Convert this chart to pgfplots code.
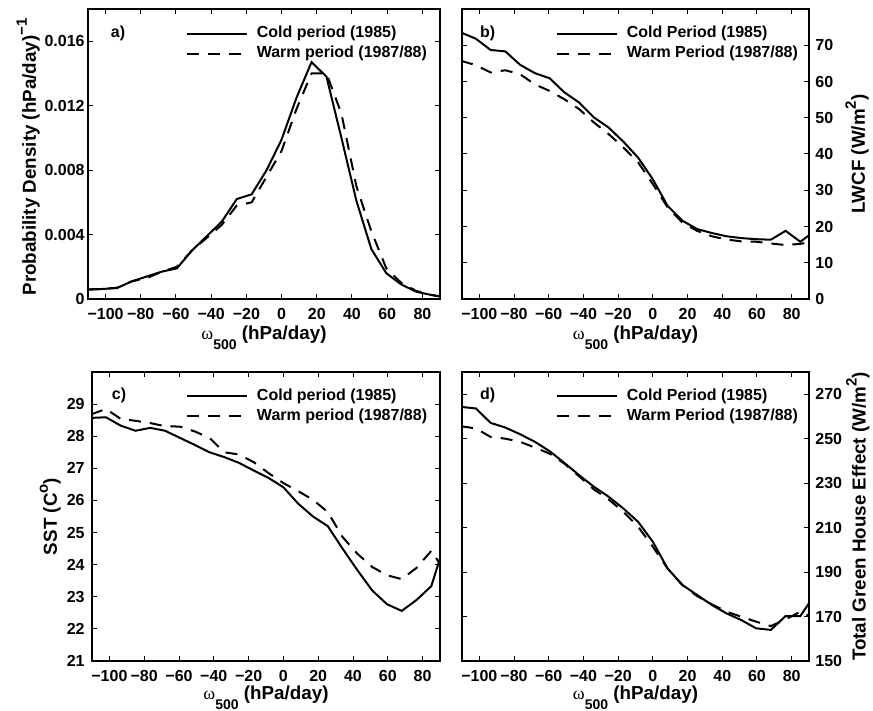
\documentclass[border=0pt]{standalone}
\usepackage{fontspec}
\setmainfont{Liberation Sans}
\newfontfamily\omegafont{Liberation Serif}
\usepackage{pgfplots}
\pgfplotsset{compat=1.18}

\pgfplotstableread{
x cold warm
-110.5 0.00057 0.00060
-102 0.00062 0.00062
-93.5 0.00068 0.00070
-85 0.00110 0.00110
-76.5 0.00140 0.00130
-68 0.00170 0.00170
-59.5 0.00190 0.00200
-51 0.00300 0.00300
-42.5 0.00390 0.00380
-34 0.00480 0.00460
-25.5 0.00620 0.00580
-17 0.00650 0.00600
-8.5 0.00800 0.00760
0 0.00990 0.00920
8.5 0.01250 0.01180
17 0.01470 0.01400
25.5 0.01380 0.01400
34 0.01000 0.01150
42.5 0.00610 0.00700
51 0.00310 0.00420
59.5 0.00160 0.00190
68 0.00090 0.00100
76.5 0.00045 0.00050
85 0.00025 0.00025
93.5 0.00010 0.00010
}\tabA

\pgfplotstableread{
x cold warm
-110.5 73.5 65.7
-102 71.8 64.5
-93.5 68.7 62.5
-85 68.3 63.1
-76.5 64.6 62.0
-68 62.3 59.2
-59.5 60.9 57.4
-51 57.0 55.1
-42.5 54.2 52.4
-34 50.1 48.7
-25.5 47.3 45.5
-17 43.4 41.8
-8.5 39.0 37.7
0 33.0 31.7
8.5 25.7 25.3
17 21.6 21.1
25.5 19.3 18.8
34 18.2 17.3
42.5 17.3 16.4
51 16.8 15.9
59.5 16.5 15.8
68 16.35 15.3
76.5 18.8 14.9
85 15.8 15.2
93.5 18.8 16.0
}\tabB

\pgfplotstableread{
x cold warm
-110.5 28.57 28.68
-102 28.59 28.85
-93.5 28.33 28.54
-85 28.17 28.48
-76.5 28.26 28.41
-68 28.17 28.31
-59.5 27.95 28.30
-51 27.73 28.15
-42.5 27.50 27.95
-34 27.35 27.50
-25.5 27.17 27.43
-17 26.93 27.19
-8.5 26.70 26.85
0 26.41 26.54
8.5 25.90 26.29
17 25.50 26.02
25.5 25.20 25.64
34 24.50 24.86
42.5 23.83 24.34
51 23.20 23.93
59.5 22.77 23.67
68 22.56 23.55
76.5 22.90 23.90
85 23.33 24.43
93.5 24.80 23.74
}\tabC

\pgfplotstableread{
x cold warm
-110.5 264.3 255.6
-102 263.6 254.6
-93.5 257.1 250.8
-85 255.0 250.0
-76.5 252.0 248.6
-68 248.6 246.0
-59.5 244.4 243.3
-51 239.1 238.8
-42.5 233.6 233.1
-34 228.4 227.2
-25.5 223.9 222.7
-17 218.6 217.1
-8.5 212.6 210.4
0 203.6 201.4
8.5 191.6 191.6
17 184.2 184.2
25.5 179.7 179.2
34 175.2 175.5
42.5 171.4 172.2
51 168.4 169.9
59.5 164.7 167.7
68 164.0 165.7
76.5 170.2 168.7
85 170.2 172.2
93.5 180.0 169.0
}\tabD

\newcommand{\lblfont}{\fontsize{9.4}{11}\selectfont\bfseries}
\newcommand{\tkfont}{\fontsize{8}{9}\selectfont\bfseries}
\newcommand{\omegalabel}{{\omegafont\mdseries\fontsize{9}{10}\selectfont ω}\raisebox{-5pt}{\fontsize{7}{8}\selectfont 500} (hPa/day)}

\pgfplotsset{
  myax/.style={
    scale only axis,
    xmin=-110, xmax=90,
    xtick={-100,-80,...,80},
    xticklabels={−100,−80,−60,−40,−20,0,20,40,60,80},
    tick align=inside, tick pos=both, major tick length=2.5pt,
    axis line style={line width=0.6pt, black},
    every tick/.style={line width=0.5pt, black},
    tick label style={font=\tkfont},
    xticklabel style={anchor=base, yshift=-10.3pt, inner sep=0pt},
    label style={font=\lblfont},
    xlabel={\omegalabel},
    legend cell align=left,
    legend style={draw=none, fill=none, font=\tkfont,
      inner sep=0pt, outer sep=0pt,
      nodes={inner sep=0pt, text height=6pt, text depth=2pt},
      row sep=2pt, column sep=4.5pt},
    legend image code/.code={\draw[##1] (0pt,0pt) -- (30pt,0pt);},
  },
  cold/.style={black, line width=1pt},
  warm/.style={black, line width=1pt, dash pattern=on 6pt off 4.5pt},
}

\begin{document}
\begin{tikzpicture}
\useasboundingbox (0,0) rectangle (436.5pt,355.5pt);

% a)
\begin{axis}[myax, at={(44pt,206pt)}, anchor=south west,
  width=176pt, height=145pt,
  ymin=0, ymax=0.018,
  ytick={0,0.004,0.008,0.012,0.016},
  yticklabels={0,0.004,0.008,0.012,0.016},
  yticklabel style={anchor=east, inner sep=0pt, xshift=-1.5pt},
  xlabel style={at={(axis description cs:0.5,0)}, anchor=base, yshift=-20.5pt},
  ylabel={Probability Density (hPa/day)\raisebox{4.5pt}{\fontsize{7.5}{9}\selectfont −1}},
  ylabel style={at={(axis description cs:-0.148,0.49)}, anchor=base},
  legend style={at={(axis description cs:0.963,0.943)}, anchor=north east},
]
\addplot[cold] table[x=x, y=cold] {\tabA};
\addplot[warm] table[x=x, y=warm] {\tabA};
\legend{Cold period (1985), Warm period (1987/88)}
\node[anchor=west, font=\tkfont] at (rel axis cs:0.045,0.917) {a)};
\end{axis}

% b)
\begin{axis}[myax, at={(231pt,206pt)}, anchor=south west,
  width=173.5pt, height=145pt,
  ymin=0, ymax=80,
  ytick={0,10,...,70},
  yticklabels={0,10,20,30,40,50,60,70},
  yticklabel pos=right,
  yticklabel style={anchor=west, inner sep=0pt, xshift=3pt},
  xlabel style={at={(axis description cs:0.5,0)}, anchor=base, yshift=-20.5pt},
  ylabel={LWCF (W/m\raisebox{4.5pt}{\fontsize{7.5}{9}\selectfont 2})},
  ylabel style={at={(axis description cs:1.161,0.5)}, anchor=base},
  legend style={at={(axis description cs:0.968,0.943)}, anchor=north east},
]
\addplot[cold] table[x=x, y=cold] {\tabB};
\addplot[warm] table[x=x, y=warm] {\tabB};
\legend{Cold Period (1985), Warm Period (1987/88)}
\node[anchor=west, font=\tkfont] at (rel axis cs:0.032,0.917) {b)};
\end{axis}

% c)
\begin{axis}[myax, at={(46pt,25pt)}, anchor=south west,
  width=174pt, height=144.5pt,
  ymin=21, ymax=30,
  ytick={21,22,...,29},
  yticklabels={21,22,23,24,25,26,27,28,29},
  yticklabel style={anchor=east, inner sep=0pt, xshift=-3.5pt},
  xlabel style={at={(axis description cs:0.5,0)}, anchor=base, yshift=-19.5pt},
  ylabel={SST (C\raisebox{4.5pt}{\fontsize{7.5}{9}\selectfont o})},
  ylabel style={at={(axis description cs:-0.101,0.5)}, anchor=base},
  legend style={at={(axis description cs:0.963,0.943)}, anchor=north east},
]
\addplot[cold] table[x=x, y=cold] {\tabC};
\addplot[warm] table[x=x, y=warm] {\tabC};
\legend{Cold period (1985), Warm period (1987/88)}
\node[anchor=west, font=\tkfont] at (rel axis cs:0.037,0.92) {c)};
\end{axis}

% d)
\begin{axis}[myax, at={(231pt,25pt)}, anchor=south west,
  width=173.5pt, height=144.5pt,
  ymin=150, ymax=280,
  ytick={150,170,...,270},
  yticklabels={150,170,190,210,230,250,270},
  yticklabel pos=right,
  yticklabel style={anchor=west, inner sep=0pt, xshift=3pt},
  xlabel style={at={(axis description cs:0.5,0)}, anchor=base, yshift=-19.5pt},
  ylabel={Total Green House Effect (W/m\raisebox{4.5pt}{\fontsize{7.5}{9}\selectfont 2})},
  ylabel style={at={(axis description cs:1.163,0.5)}, anchor=base},
  legend style={at={(axis description cs:0.968,0.943)}, anchor=north east},
]
\addplot[cold] table[x=x, y=cold] {\tabD};
\addplot[warm] table[x=x, y=warm] {\tabD};
\legend{Cold Period (1985), Warm Period (1987/88)}
\node[anchor=west, font=\tkfont] at (rel axis cs:0.032,0.92) {d)};
\end{axis}
\end{tikzpicture}
\end{document}
